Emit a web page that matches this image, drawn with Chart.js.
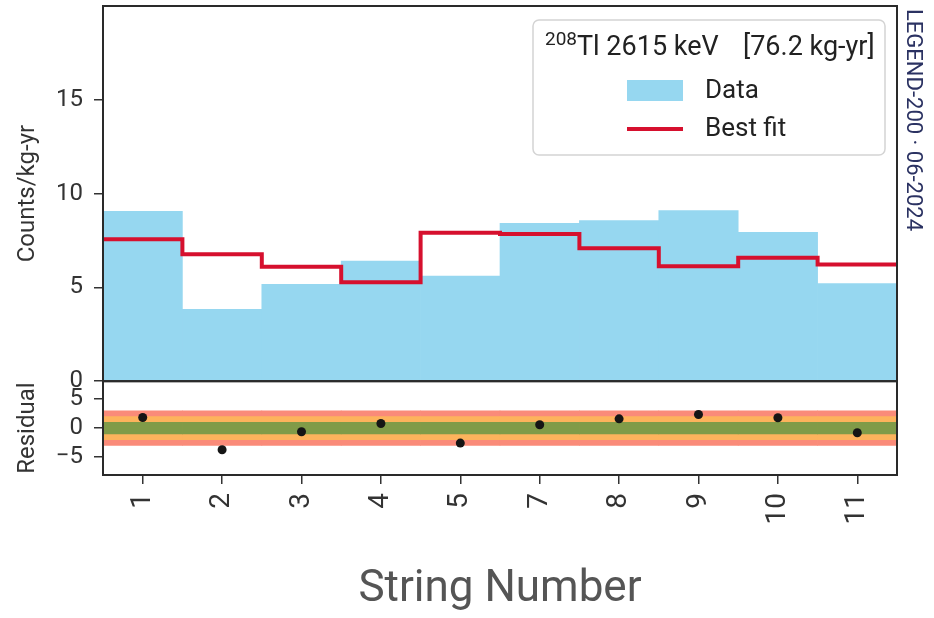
<!DOCTYPE html>
<html>
<head>
<meta charset="utf-8">
<script src="https://cdn.jsdelivr.net/npm/chart.js@4.4.1/dist/chart.umd.min.js"></script>
<style>
  html, body { margin: 0; padding: 0; background: #fff; }
  #wrap { width: 934px; height: 618px; }
</style>
</head>
<body>
<div id="wrap"><canvas id="grafica" width="934" height="618"></canvas></div>
<script>
// Datos
const strings = ['1', '2', '3', '4', '5', '7', '8', '9', '10', '11'];
const dataCounts = [9.05, 3.83, 5.16, 6.40, 5.60, 8.42, 8.56, 9.10, 7.94, 5.20];
const bestFit = [7.57, 6.77, 6.10, 5.28, 7.91, 7.85, 7.09, 6.13, 6.58, 6.22];
const residuals = [1.83, -3.74, -0.64, 0.80, -2.59, 0.57, 1.60, 2.35, 1.78, -0.81];
const countTicks = [0, 5, 10, 15];
const residualTicks = [-5, 0, 5];
const bandLevels = [1, 2, 3];
const bandColors = ['#809b48', '#fdb35c', '#fa8b79'];

const legendSup = '208';
const legendTitle = 'Tl 2615 keV';
const legendExposure = '[76.2 kg-yr]';
const watermark = 'LEGEND-200 \u00b7 06-2024';

Chart.defaults.font.family = 'Roboto';

// Escalera del ajuste: un punto en cada borde de bin
const pasos = bestFit.map((v, i) => ({ x: i, y: v }));
pasos.push({ x: bestFit.length, y: bestFit[bestFit.length - 1] });

// Bandas de 1, 2 y 3 sigma como barras flotantes
const bandas = bandLevels.map((lvl, i) => ({
  type: 'bar',
  label: 'band' + lvl,
  data: strings.map(() => [-lvl, lvl]),
  yAxisID: 'y2',
  backgroundColor: bandColors[i],
  barPercentage: 1,
  categoryPercentage: 1,
  grouped: false,
  order: 2 + i
}));

const marco = {
  id: 'marco',
  afterDatasetsDraw(chart) {
    const { ctx, chartArea } = chart;
    const y = chart.scales.y, y2 = chart.scales.y2;
    ctx.save();
    ctx.strokeStyle = '#2a2a2a';
    ctx.lineWidth = 2;
    ctx.strokeRect(chartArea.left, y.top, chartArea.right - chartArea.left, y.bottom - y.top);
    ctx.strokeRect(chartArea.left, y2.top, chartArea.right - chartArea.left, y2.bottom - y2.top);
    ctx.restore();
  }
};

const leyenda = {
  id: 'leyenda',
  afterDraw(chart) {
    const { ctx, chartArea } = chart;
    const x0 = chartArea.right - 364, y0 = chartArea.top + 14, w = 352, h = 135;
    ctx.save();
    ctx.fillStyle = '#fff';
    ctx.strokeStyle = '#d4d4d4';
    ctx.lineWidth = 1.5;
    ctx.beginPath();
    ctx.roundRect(x0, y0, w, h, 6);
    ctx.fill();
    ctx.stroke();

    ctx.fillStyle = '#222';
    ctx.textAlign = 'left';
    ctx.textBaseline = 'alphabetic';
    ctx.font = '19px Roboto';
    ctx.fillText(legendSup, x0 + 12, y0 + 25);
    ctx.font = '27px Roboto';
    ctx.fillText(legendTitle, x0 + 44, y0 + 35);
    ctx.fillText(legendExposure, x0 + 210, y0 + 35);

    const ds = chart.data.datasets;
    ctx.fillStyle = ds[1].backgroundColor;
    ctx.fillRect(x0 + 94, y0 + 60, 56, 21);
    ctx.strokeStyle = ds[0].borderColor;
    ctx.lineWidth = 4;
    ctx.beginPath();
    ctx.moveTo(x0 + 94, y0 + 109);
    ctx.lineTo(x0 + 150, y0 + 109);
    ctx.stroke();

    ctx.fillStyle = '#222';
    ctx.font = '26px Roboto';
    ctx.textBaseline = 'middle';
    ctx.fillText(ds[1].label, x0 + 172, y0 + 71);
    ctx.fillText(ds[0].label, x0 + 172, y0 + 109);

    // marca de agua lateral
    ctx.translate(chartArea.right + 15, 9);
    ctx.rotate(Math.PI / 2);
    ctx.fillStyle = '#2b3262';
    ctx.font = '22px Roboto';
    ctx.fillText(watermark, 0, 0);
    ctx.restore();
  }
};

const ejeY = (extra) => Object.assign({
  position: 'left',
  stack: 'paneles',
  border: { display: false },
  grid: { drawOnChartArea: false, drawTicks: true, tickLength: 9, color: '#333', lineWidth: 1.5 },
  ticks: {
    autoSkip: false, color: '#333', font: { size: 24 }, padding: 11,
    callback: (v) => String(v).replace('-', '\u2212')
  },
  afterFit: (s) => { s.width = 93; s.paddingTop = 0; s.paddingBottom = 0; }
}, extra);

const ctx = document.getElementById('grafica').getContext('2d');
new Chart(ctx, {
  data: {
    labels: strings,
    datasets: [
      {
        type: 'line',
        label: 'Best fit',
        data: pasos,
        xAxisID: 'x2',
        yAxisID: 'y',
        stepped: 'before',
        borderColor: '#d6102e',
        borderWidth: 4,
        borderJoinStyle: 'miter',
        pointRadius: 0,
        fill: false,
        order: 0
      },
      {
        type: 'bar',
        label: 'Data',
        data: dataCounts,
        yAxisID: 'y',
        backgroundColor: '#96d7f0',
        barPercentage: 1,
        categoryPercentage: 1,
        grouped: false,
        order: 1
      },
      {
        type: 'line',
        label: 'Residual',
        data: residuals,
        yAxisID: 'y2',
        showLine: false,
        pointRadius: 4.5,
        pointBackgroundColor: '#151515',
        pointBorderWidth: 0,
        order: 0
      },
      ...bandas
    ]
  },
  options: {
    responsive: false,
    animation: false,
    layout: { padding: { left: 10, right: 37, top: 6, bottom: 0 } },
    plugins: { legend: { display: false }, tooltip: { enabled: false } },
    scales: {
      x: {
        type: 'category',
        offset: true,
        border: { display: false },
        grid: { offset: false, drawOnChartArea: false, tickLength: 9, color: '#333', lineWidth: 1.5 },
        ticks: { autoSkip: false, minRotation: 90, maxRotation: 90, padding: 9, color: '#333', font: { size: 28 } },
        title: { display: true, text: 'String Number', color: '#555', font: { size: 44 }, padding: { top: 4, bottom: 2 } },
        afterFit: (s) => { s.height = 143; s.paddingLeft = 0; s.paddingRight = 0; }
      },
      x2: { type: 'linear', min: 0, max: strings.length, display: false },
      y2: ejeY({
        stackWeight: 1,
        min: -8.1,
        max: 8.1,
        title: { display: true, text: 'Residual', color: '#333', font: { size: 24 } },
        afterBuildTicks: (s) => { s.ticks = residualTicks.map(v => ({ value: v })); }
      }),
      y: ejeY({
        stackWeight: 4,
        min: 0,
        max: 20,
        title: { display: true, text: 'Counts/kg-yr', color: '#333', font: { size: 24 } },
        afterBuildTicks: (s) => { s.ticks = countTicks.map(v => ({ value: v })); }
      })
    }
  },
  plugins: [marco, leyenda]
});
</script>
</body>
</html>
